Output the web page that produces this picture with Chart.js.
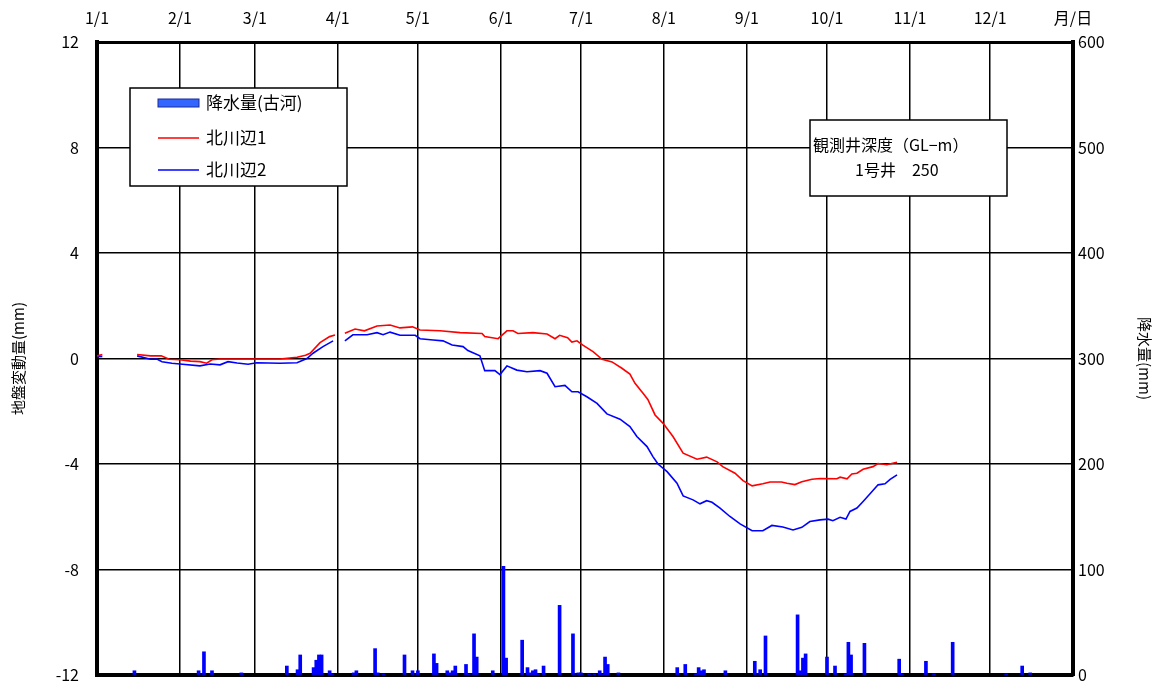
<!DOCTYPE html>
<html>
<head>
<meta charset="utf-8">
<script src="https://cdn.jsdelivr.net/npm/chart.js@4"></script>
<style>
  html, body { margin:0; padding:0; background:#fff; }
  #wrap { width:1167px; height:689px; }
</style>
</head>
<body>
<div id="wrap"><canvas id="myChart" width="1167" height="689"></canvas></div>
<script>
// month starts (day of year) and their labels on the top axis
const monthDays = [0, 31, 59, 90, 120, 151, 181, 212, 243, 273, 304, 334, 365];
const monthLabels = ['1/1','2/1','3/1','4/1','5/1','6/1','7/1','8/1','9/1','10/1','11/1','12/1','月/日'];

// 北川辺1 (null = no record)
const k1Days = [0,2,8,15,20,24,27,31,35,38.5,41,43,46,53.5,61,68.4,74.8,78,79.7,83.4,87,89,90,
  92.7,96.5,100,104.7,109.6,113.3,118,120.8,128.3,135.8,144,145,150,153.3,155.6,157.4,163,168.3,171.3,173,176,177.6,179.5,
  181.7,185.5,188.9,192.6,196.3,199.3,201.2,204.2,206,208.7,211.7,215.4,219.2,224.4,228,231.9,234,238.6,241.6,245,249,
  251.7,256,258,261,263.6,267.4,270.4,276.7,277.9,280.5,282.3,284.2,286.5,290.2,292.1,295.4,297.6,299.2];
const k1Vals = [0.1,0.15,null,0.15,0.1,0.1,-0.03,-0.05,-0.1,-0.12,-0.18,-0.05,-0.02,-0.02,-0.02,-0.02,0.05,0.12,0.2,0.6,0.83,0.89,null,
  0.96,1.12,1.05,1.23,1.27,1.16,1.2,1.08,1.05,0.98,0.95,0.83,0.75,1.05,1.05,0.95,0.98,0.93,0.75,0.88,0.79,0.62,0.67,
  0.51,0.26,-0.03,-0.13,-0.37,-0.59,-0.94,-1.32,-1.55,-2.14,-2.46,-2.96,-3.59,-3.82,-3.74,-3.92,-4.1,-4.35,-4.63,-4.83,-4.75,
  -4.68,-4.68,-4.73,-4.78,-4.67,-4.58,-4.55,-4.56,-4.5,-4.56,-4.38,-4.35,-4.2,-4.1,-3.98,-4.03,-3.97,-3.93];

// 北川辺2
const k2Days = [0,2,8,15,20,22.4,24.3,28,32,38.5,42.3,46,49,52.4,56.5,59.8,68.4,74.8,78.5,80.8,84.5,88.3,90,
  92.7,95.7,101,104.7,107,109.6,113.3,119,120.8,125.7,129.4,132.8,136.9,138.7,143.2,145,148.8,150.7,153.3,157,160.8,165.7,168.3,
  171.3,175,177.6,179.9,183.2,187,190.7,195.6,199.3,201.9,205.7,207.9,209.8,213.2,216.9,219.2,222.9,225.5,228,230,233,236.7,
  240.5,245,249,252.4,256.5,260.3,263.6,266.6,270.4,273.4,275.2,277.9,280.1,281.6,284.2,286.5,289.1,292.1,294.7,296.6,299.2];
const k2Vals = [0.07,0.08,null,0.1,-0.03,-0.02,-0.12,-0.18,-0.22,-0.28,-0.21,-0.24,-0.12,-0.17,-0.22,-0.16,-0.18,-0.16,0.0,0.2,0.45,0.67,null,
  0.67,0.9,0.9,0.98,0.9,1.0,0.88,0.88,0.75,0.7,0.67,0.51,0.45,0.3,0.1,-0.46,-0.46,-0.61,-0.28,-0.44,-0.5,-0.46,-0.56,
  -1.07,-1.02,-1.26,-1.26,-1.45,-1.7,-2.1,-2.3,-2.58,-2.96,-3.34,-3.72,-4.0,-4.29,-4.73,-5.21,-5.36,-5.51,-5.39,-5.45,-5.67,-5.99,
  -6.27,-6.53,-6.53,-6.33,-6.39,-6.5,-6.4,-6.18,-6.12,-6.09,-6.15,-6.02,-6.09,-5.8,-5.67,-5.42,-5.13,-4.79,-4.75,-4.58,-4.41];

// 降水量(古河) mm
const rainDays = [14,38,40,43,54,71,75,76,81,82,83,84,87,88,96,97,104,105,107,115,118,120,126,127,131,132,133,134,138,139,
  141,142,148,152,153,159,161,162,163,164,165,167,173,178,180,181,184,186,188,189,190,191,195,217,220,224,225,226,227,235,
  246,248,250,262,263,264,265,273,276,280,281,282,287,300,301,310,313,320,340,346,349];
const rainVals = [4,4,22,4,2,8.5,5,19,7,14,19,19,4,1,2,4,25,2,1,19,4,4,20,11,4,2,4,8.5,10,1,
  39,17,4,103,16,33,7,2,4,5,1,8.5,66,39,2,2,1,1,4,1,17,10,2,7,10,1,7,4,5,4,
  13,5,37,57,4,16,20,17,8.5,1,31,19,30,15,1,13,1,31,1,8.5,2];

const JP = "'Noto Sans CJK JP', 'Noto Sans', sans-serif";

function pts(days, vals){
  return days.map((d, i) => ({x: d, y: vals[i]}));
}
function monthTicks(scale){
  scale.ticks = monthDays.map(v => ({value: v}));
}

// legend box + note box drawn inside the plot
const boxes = {
  id: 'boxes',
  afterDraw(chart){
    const c = chart.ctx;
    c.save();
    // legend
    c.fillStyle = '#fff';
    c.fillRect(130, 88, 217, 98);
    c.strokeStyle = '#000';
    c.lineWidth = 1.5;
    c.strokeRect(130, 88, 217, 98);
    c.font = '17px ' + JP;
    c.textBaseline = 'middle';
    c.textAlign = 'left';
    const ds = chart.data.datasets;
    const rowY = [103, 138, 170];
    ds.forEach((d, i) => {
      const y = rowY[i];
      if(d.type === 'bar'){
        c.fillStyle = '#3366ff';
        c.fillRect(158, y - 4, 41, 8);
        c.strokeStyle = '#1a2a99';
        c.lineWidth = 1;
        c.strokeRect(158, y - 4, 41, 8);
      } else {
        c.strokeStyle = d.borderColor;
        c.lineWidth = 1.5;
        c.beginPath(); c.moveTo(158, y); c.lineTo(199, y); c.stroke();
      }
      c.fillStyle = '#000';
      c.fillText(d.label, 206, y);
    });
    // well depth note
    c.fillStyle = '#fff';
    c.fillRect(810, 120, 197, 76);
    c.strokeStyle = '#000';
    c.lineWidth = 1.5;
    c.strokeRect(810, 120, 197, 76);
    c.fillStyle = '#000';
    c.font = '16px ' + JP;
    c.fillText('観測井深度（GL−m）', 813, 145);
    c.fillText('1号井　250', 855, 170);
    c.restore();
  }
};

const ctx = document.getElementById('myChart').getContext('2d');
Chart.defaults.font.family = JP;
Chart.defaults.color = '#000';

const data = {
  datasets: [{
    type: 'bar',
    label: '降水量(古河)',
    data: pts(rainDays, rainVals),
    backgroundColor: '#0000ff',
    borderWidth: 0,
    barThickness: 3,
    grouped: false,
    xAxisID: 'x',
    yAxisID: 'y2',
    order: 3
  },
  {
    type: 'line',
    label: '北川辺1',
    data: pts(k1Days, k1Vals),
    borderColor: '#ff0000',
    borderWidth: 1.6,
    pointRadius: 0,
    spanGaps: false,
    tension: 0,
    xAxisID: 'x',
    yAxisID: 'y',
    order: 1
  },
  {
    type: 'line',
    label: '北川辺2',
    data: pts(k2Days, k2Vals),
    borderColor: '#0000ff',
    borderWidth: 1.6,
    pointRadius: 0,
    spanGaps: false,
    tension: 0,
    xAxisID: 'x',
    yAxisID: 'y',
    order: 2
  }]
};

const options = {
  responsive: false,
  animation: false,
  layout: { padding: 0 },
  plugins: {
    legend: { display: false },
    tooltip: { enabled: false }
  },
  scales: {
    x: {
      type: 'linear', position: 'bottom', min: 0, max: 365, offset: false,
      afterBuildTicks: monthTicks,
      afterFit: s => { s.height = 14; },
      ticks: { display: false },
      grid: { color: '#000', lineWidth: 1.5, drawTicks: false, offset: false },
      border: { color: '#000', width: 4 }
    },
    x2: {
      type: 'linear', position: 'top', min: 0, max: 365, offset: false,
      afterBuildTicks: monthTicks,
      afterFit: s => { s.height = 42; },
      ticks: {
        font: { size: 16 }, padding: 14, maxRotation: 0, autoSkip: false,
        callback: v => monthLabels[monthDays.indexOf(v)]
      },
      grid: { drawOnChartArea: false, drawTicks: false },
      border: { color: '#000', width: 3 }
    },
    y: {
      position: 'left', min: -12, max: 12,
      afterFit: s => { s.width = 97; },
      // label gap made with an invisible tick so the axis does not pad the chart bottom
      ticks: { stepSize: 4, font: { size: 16 }, padding: 0 },
      grid: { color: '#000', lineWidth: 1.5, drawTicks: true, tickLength: 18, tickColor: 'rgba(0,0,0,0)' },
      border: { color: '#000', width: 4 },
      title: { display: true, text: '地盤変動量(mm)', font: { size: 15 }, padding: { top: 9, bottom: 0 } }
    },
    y2: {
      position: 'right', min: 0, max: 600,
      afterFit: s => { s.width = 94; },
      ticks: { stepSize: 100, font: { size: 16 }, padding: 0 },
      grid: { drawOnChartArea: false, drawTicks: true, tickLength: 5, tickColor: 'rgba(0,0,0,0)' },
      border: { color: '#000', width: 4 },
      title: { display: true, text: '降水量(mm)', font: { size: 15 }, padding: { top: 13, bottom: 0 } }
    }
  }
};

const config = {
  type: 'line',
  data: data,
  options: options,
  plugins: [boxes]
};
const myChart = new Chart(ctx, config);
</script>
</body>
</html>
